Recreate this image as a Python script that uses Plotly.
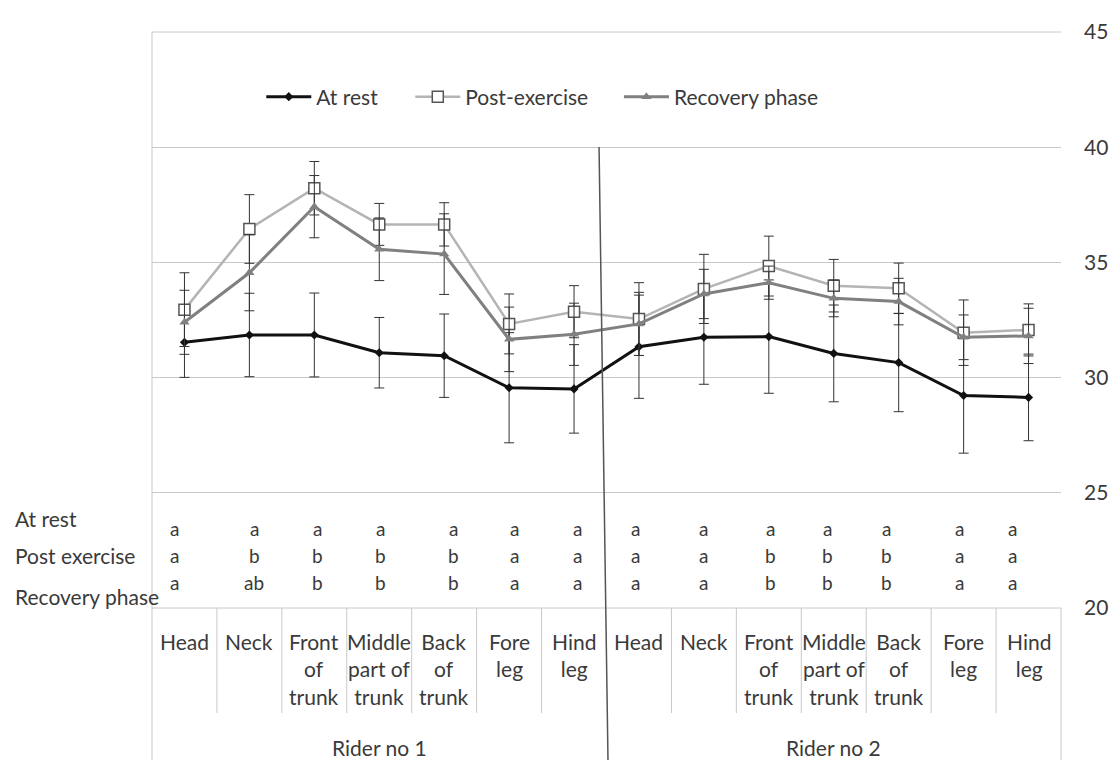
import plotly.graph_objects as go

# ---------------- data ----------------
parts = ["Head", "Neck", "Front<br>of<br>trunk", "Middle<br>part of<br>trunk",
         "Back<br>of<br>trunk", "Fore<br>leg", "Hind<br>leg"]
riders = ["Rider no 1", "Rider no 2"]
categories = parts + parts

at_rest = [31.53, 31.85, 31.85, 31.08, 30.95, 29.56, 29.51,
           31.34, 31.75, 31.78, 31.05, 30.65, 29.22, 29.14]
at_rest_err = [1.52, 1.81, 1.82, 1.53, 1.81, 2.39, 1.92,
               2.24, 2.04, 2.46, 2.10, 2.13, 2.50, 1.88]

post_exercise = [32.95, 36.45, 38.22, 36.65, 36.65, 32.33, 32.86,
                 32.54, 33.85, 34.84, 33.99, 33.88, 31.95, 32.07]
post_exercise_err = [1.60, 1.49, 1.16, 0.91, 0.94, 1.30, 1.13,
                     1.58, 1.50, 1.30, 1.14, 1.09, 1.42, 1.13]

recovery = [32.40, 34.55, 37.42, 35.57, 35.36, 31.66, 31.88,
            32.33, 33.63, 34.12, 33.44, 33.30, 31.75, 31.81]
recovery_err = [1.39, 1.65, 1.35, 1.36, 1.75, 1.40, 1.35,
                1.37, 1.07, 0.72, 0.80, 1.01, 0.97, 1.20]

row_labels = ["At rest", "Post exercise", "Recovery phase"]
letters_rest = ["a"] * 14
letters_post = ["a", "b", "b", "b", "b", "a", "a", "a", "a", "b", "b", "b", "a", "a"]
letters_recovery = ["a", "ab", "b", "b", "b", "a", "a", "a", "a", "b", "b", "b", "a", "a"]

y_ticks = [20, 25, 30, 35, 40, 45]

# ---------------- layout helpers ----------------
W, H = 1120, 775
L, R, T, B = 152, 1067, 32, 608
def px(p):
    return (p - L) / (R - L)
def py(p):
    return (B - p) / (B - T)

FONT = "Lato"
TXT = "#3a3a3a"
FS = 21
letter_shift = [-10, 5, 3, 1, 9, 5, 3, -3, 0, 2, -6, -12, -4, -16]

xs = list(range(len(categories)))

fig = go.Figure()
fig.add_trace(go.Scatter(
    x=xs, y=at_rest, name="At rest", mode="lines+markers",
    line=dict(color="#111111", width=3),
    marker=dict(symbol="diamond", size=7, color="#111111"),
    error_y=dict(type="data", array=at_rest_err, color="#333333", thickness=1, width=5),
    legend="legend"))
fig.add_trace(go.Scatter(
    x=xs, y=post_exercise, name="Post-exercise", mode="lines+markers",
    line=dict(color="#b4b4b4", width=2.5),
    marker=dict(symbol="square", size=11, color="white", line=dict(color="#555555", width=1.5)),
    error_y=dict(type="data", array=post_exercise_err, color="#333333", thickness=1, width=5),
    legend="legend2"))
fig.add_trace(go.Scatter(
    x=xs, y=recovery, name="Recovery phase", mode="lines+markers",
    line=dict(color="#808080", width=3),
    marker=dict(symbol="triangle-up", size=9, color="#808080"),
    error_y=dict(type="data", array=recovery_err, color="#333333", thickness=1, width=5),
    legend="legend3"))

shapes = []
GRID = "#c8c8c8"
# top border (45) and table top (20)
for yy in (1, 0):
    shapes.append(dict(type="line", xref="paper", yref="paper", x0=0, x1=1,
                       y0=yy, y1=yy, line=dict(color=GRID, width=1), layer="below"))
# left border (plot + table)
shapes.append(dict(type="line", xref="paper", yref="paper", x0=0, x1=0,
                   y0=py(T), y1=py(760), line=dict(color=GRID, width=1)))
# right border of table
shapes.append(dict(type="line", xref="paper", yref="paper", x0=1, x1=1,
                   y0=0, y1=py(760), line=dict(color=GRID, width=1)))
# column dividers
for i in range(len(categories) - 1):
    if i == 6:
        continue
    shapes.append(dict(type="line", xref="x", yref="paper", x0=i + 0.5, x1=i + 0.5,
                       y0=0, y1=py(713), line=dict(color=GRID, width=1)))
# rider divider (dark, slightly slanted as in original)
shapes.append(dict(type="line", xref="paper", yref="paper", x0=px(602), x1=px(611),
                   y0=py(147), y1=py(760), line=dict(color="#555555", width=1.5)))

annotations = []
for i, c in enumerate(categories):
    annotations.append(dict(x=i, y=py(627), xref="x", yref="paper", text=c,
                            showarrow=False, yanchor="top", xanchor="center",
                            font=dict(family=FONT, size=FS, color=TXT)))
    for row, lst in zip([528, 555, 582], [letters_rest, letters_post, letters_recovery]):
        annotations.append(dict(x=i, y=py(row), xref="x", yref="paper", text=lst[i],
                                showarrow=False, yanchor="middle", xanchor="center",
                                xshift=letter_shift[i],
                                font=dict(family=FONT, size=19, color=TXT)))
for k, r in enumerate(riders):
    annotations.append(dict(x=3 + 7 * k, y=py(747), xref="x", yref="paper", text=r,
                            showarrow=False, yanchor="middle", xanchor="center",
                            font=dict(family=FONT, size=FS, color=TXT)))
for lab, row in zip(row_labels, [518, 555, 596]):
    annotations.append(dict(x=px(12), y=py(row), xref="paper", yref="paper", text=lab,
                            showarrow=False, yanchor="middle", xanchor="left",
                            font=dict(family=FONT, size=FS, color=TXT)))

def leg(xp):
    return dict(x=px(xp), y=py(97), xanchor="left", yanchor="middle",
                orientation="h", bgcolor="rgba(0,0,0,0)", itemwidth=45,
                font=dict(family=FONT, size=FS, color=TXT))

fig.update_layout(
    width=W, height=H,
    margin=dict(l=L, r=W - R, t=T, b=H - B, pad=0),
    paper_bgcolor="white", plot_bgcolor="white",
    showlegend=True,
    legend=leg(262), legend2=leg(412), legend3=leg(622),
    xaxis=dict(range=[-0.5, 13.5], showgrid=False, showticklabels=False,
               zeroline=False, showline=False, ticks=""),
    yaxis=dict(range=[20, 45], tickvals=y_ticks, side="right", showgrid=True,
               gridcolor=GRID, gridwidth=1, zeroline=False, showline=False,
               ticks="", ticklabelstandoff=22,
               tickfont=dict(family=FONT, size=FS, color=TXT)),
    shapes=shapes, annotations=annotations,
)

fig.write_html("out.html", config={"displayModeBar": False},
               post_script="document.body.style.margin='0';")
